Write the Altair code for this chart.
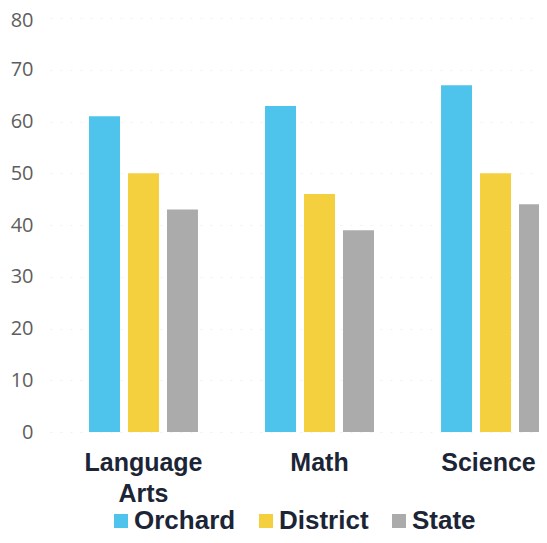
import altair as alt
import pandas as pd

subjects = ["Language Arts", "Math", "Science"]
groups = ["Orchard", "District", "State"]
orchard = [61, 63, 67]
district = [50, 46, 50]
state = [43, 39, 44]
colors = ["#4ec4ed", "#f4d03f", "#ababab"]
y_ticks = [0, 10, 20, 30, 40, 50, 60, 70, 80]

rows = []
for i, s in enumerate(subjects):
    for g, vals in zip(groups, [orchard, district, state]):
        rows.append({"subject": s, "group": g, "value": vals[i]})
df = pd.DataFrame(rows)

navy = "#1c2536"

chart = alt.Chart(df).mark_bar(clip=True).encode(
    x=alt.X(
        "subject:N",
        sort=subjects,
        scale=alt.Scale(range=[0, 539], paddingInner=0.381, paddingOuter=0.2216),
        axis=alt.Axis(
            title=None, labelAngle=0, ticks=False, tickSize=0, domain=False,
            labelPadding=18, labelFont="Liberation Sans", labelFontSize=25,
            labelFontWeight="bold", labelColor=navy, labelLineHeight=31,
            labelExpr="split(datum.label, ' ')", labelBaseline="top", labelLimit=0,
            labelOffset={"condition": {"test": "datum.value == 'Science'", "value": -7}, "value": 0},
        ),
    ),
    xOffset=alt.XOffset("group:N", sort=groups, scale=alt.Scale(paddingInner=0.205, paddingOuter=0)),
    y=alt.Y(
        "value:Q",
        scale=alt.Scale(domain=[0, 80], nice=False),
        axis=alt.Axis(
            title=None, values=y_ticks, ticks=False, tickSize=0, domain=False,
            labelPadding=17, labelFont="Open Sans", labelFontSize=20, labelColor="#5e5e5e",
            labelOffset={"condition": {"test": "datum.value == 80", "value": 2}, "value": 0},
            grid=True, gridColor="#f0f0f0", gridDash=[2, 8], gridWidth=1,
        ),
    ),
    color=alt.Color(
        "group:N",
        sort=groups,
        scale=alt.Scale(domain=groups, range=colors),
        legend=alt.Legend(
            title=None, orient="none", legendX=58, legendY=490, direction="horizontal",
            symbolType="square", symbolSize=196, symbolStrokeWidth=0,
            labelFont="Liberation Sans", labelFontSize=26, labelFontWeight="bold",
            labelColor=navy, columnPadding=17, labelOffset=0, padding=0, labelLimit=0,
        ),
    ),
).properties(
    width=489,
    height=414,
    autosize=alt.AutoSizeParams(type="none"),
    padding={"left": 42, "top": 10, "right": 0, "bottom": 103},
).configure_view(stroke=None)

chart.save("out.html", embed_options={"renderer": "svg", "actions": False})
